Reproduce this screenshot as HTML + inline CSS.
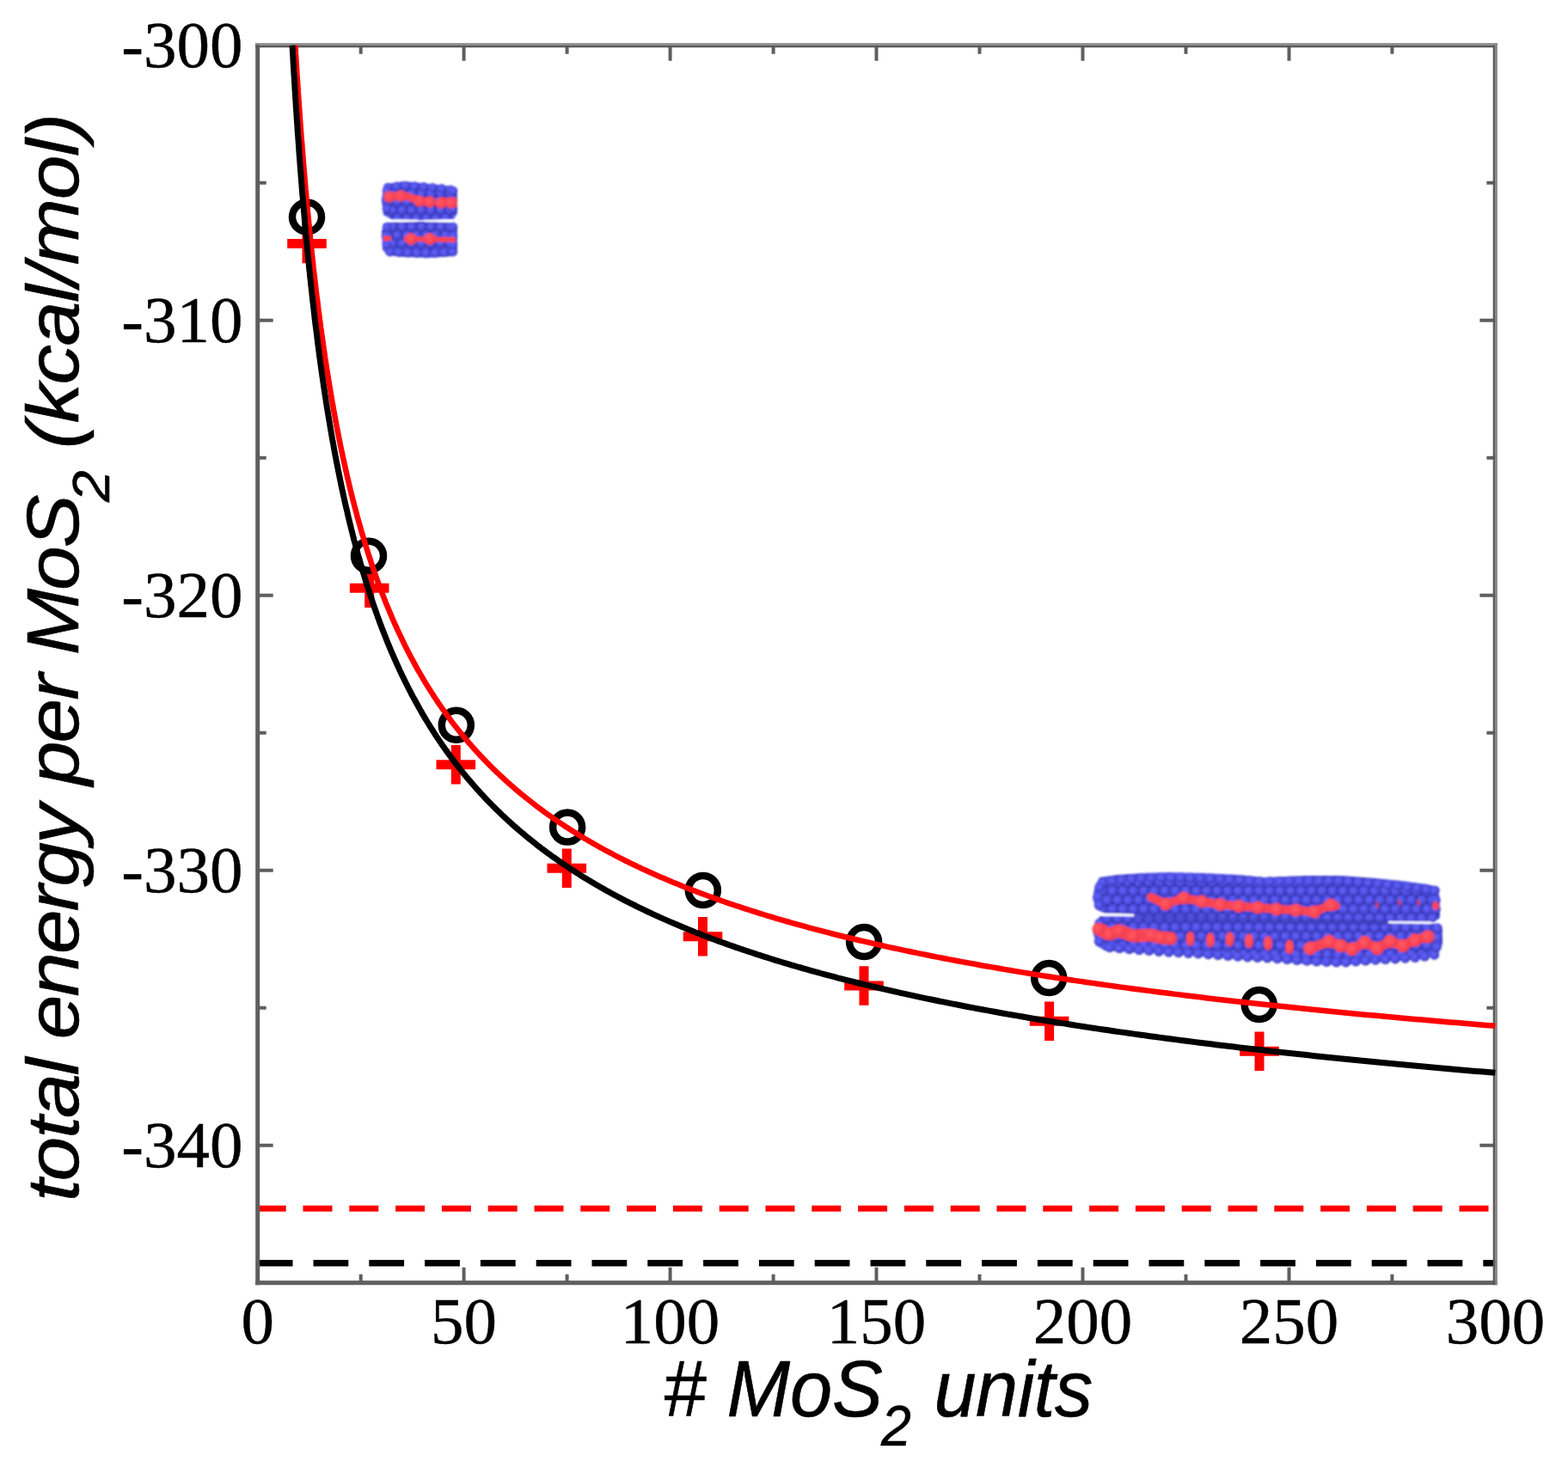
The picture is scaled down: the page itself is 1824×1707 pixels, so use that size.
<!DOCTYPE html>
<html><head><meta charset="utf-8"><title>Total energy per MoS2 vs number of MoS2 units</title>
<style>
html,body{margin:0;padding:0;background:#fff;}
svg{display:block;}
.tl{font-family:"Liberation Serif","Times New Roman",serif;font-size:77px;fill:#000;stroke:#000;stroke-width:0.4px;}
.tt{font-family:"Liberation Sans",Arial,sans-serif;font-style:italic;font-size:93px;fill:#000;stroke:#000;stroke-width:0.6px;}
.sub{font-size:66px;}
</style></head>
<body>
<svg width="1824" height="1707" viewBox="0 0 1824 1707">
<rect width="1824" height="1707" fill="#fff"/>
<g>
<line x1="299.7" y1="1406.2" x2="1739.4" y2="1406.2" stroke="#ff0000" stroke-width="7" stroke-dasharray="34 19.8" stroke-dashoffset="1"/>
<line x1="299.7" y1="1469.8" x2="1739.4" y2="1469.8" stroke="#000" stroke-width="7.5" stroke-dasharray="40.8 24"/>
<path d="M419.7,1492.7v-10 M419.7,52.7v10 M539.6,1492.7v-18 M539.6,52.7v18 M659.6,1492.7v-10 M659.6,52.7v10 M779.6,1492.7v-18 M779.6,52.7v18 M899.6,1492.7v-10 M899.6,52.7v10 M1019.5,1492.7v-18 M1019.5,52.7v18 M1139.5,1492.7v-10 M1139.5,52.7v10 M1259.5,1492.7v-18 M1259.5,52.7v18 M1379.5,1492.7v-10 M1379.5,52.7v10 M1499.5,1492.7v-18 M1499.5,52.7v18 M1619.4,1492.7v-10 M1619.4,52.7v10 M299.7,212.7h10 M1739.4,212.7h-10 M299.7,372.7h18 M1739.4,372.7h-18 M299.7,532.7h10 M1739.4,532.7h-10 M299.7,692.7h18 M1739.4,692.7h-18 M299.7,852.7h10 M1739.4,852.7h-10 M299.7,1012.7h18 M1739.4,1012.7h-18 M299.7,1172.7h10 M1739.4,1172.7h-10 M299.7,1332.7h18 M1739.4,1332.7h-18" stroke="#5e5e5e" stroke-width="4" fill="none"/>
<rect x="297.2" y="50.1" width="5" height="1445.1" fill="#5e5e5e"/>
<rect x="297.2" y="1490.1" width="1444.6" height="5.1" fill="#616161"/>
<rect x="297.2" y="50.1" width="1444.6" height="2.6" fill="#8e8e8e"/>
<rect x="297.2" y="52.6" width="1442" height="2.7" fill="#5a5a5a"/>
<rect x="1739.3" y="50.1" width="2.6" height="1445.1" fill="#8a8a8a"/>
<rect x="1736.7" y="52.6" width="2.7" height="1442.6" fill="#5a5a5a"/>
<path d="M334.2,283.4h45.6 M357.0,260.6v45.6" stroke="#ff0000" stroke-width="11" fill="none"/>
<path d="M406.9,684.2h45.6 M429.7,661.4v45.6" stroke="#ff0000" stroke-width="11" fill="none"/>
<path d="M507.5,889.8h45.6 M530.3,867.0v45.6" stroke="#ff0000" stroke-width="11" fill="none"/>
<path d="M636.5,1010.3h45.6 M659.3,987.5v45.6" stroke="#ff0000" stroke-width="11" fill="none"/>
<path d="M794.7,1089.8h45.6 M817.5,1067.0v45.6" stroke="#ff0000" stroke-width="11" fill="none"/>
<path d="M982.2,1147.0h45.6 M1005.0,1124.2v45.6" stroke="#ff0000" stroke-width="11" fill="none"/>
<path d="M1197.8,1188.2h45.6 M1220.6,1165.4v45.6" stroke="#ff0000" stroke-width="11" fill="none"/>
<path d="M1442.2,1223.2h45.6 M1465.0,1200.4v45.6" stroke="#ff0000" stroke-width="11" fill="none"/>
<circle cx="357" cy="252.5" r="17" stroke="#000" stroke-width="8.5" fill="none"/>
<circle cx="429" cy="646.7" r="17" stroke="#000" stroke-width="8.5" fill="none"/>
<circle cx="530.8" cy="843.8" r="17" stroke="#000" stroke-width="8.5" fill="none"/>
<circle cx="660.1" cy="962.6" r="17" stroke="#000" stroke-width="8.5" fill="none"/>
<circle cx="817.8" cy="1035.9" r="17" stroke="#000" stroke-width="8.5" fill="none"/>
<circle cx="1005.1" cy="1096" r="17" stroke="#000" stroke-width="8.5" fill="none"/>
<circle cx="1220.2" cy="1138" r="17" stroke="#000" stroke-width="8.5" fill="none"/>
<circle cx="1464.7" cy="1169" r="17" stroke="#000" stroke-width="8.5" fill="none"/>
<path d="M343.4,52.7 L343.7,57.0 L343.9,61.4 L344.2,65.7 L344.5,70.0 L344.7,74.3 L345.0,78.5 L345.3,82.8 L345.5,87.0 L345.8,91.2 L346.1,95.5 L346.4,99.7 L346.6,103.8 L346.9,108.0 L347.2,112.2 L347.5,116.3 L347.8,120.4 L348.1,124.6 L348.4,128.7 L348.7,132.7 L348.9,136.8 L349.2,140.9 L349.5,144.9 L349.8,149.0 L350.1,153.0 L350.4,157.0 L350.7,161.0 L351.1,165.0 L351.4,168.9 L351.7,172.9 L352.0,176.8 L352.3,180.7 L352.6,184.7 L352.9,188.6 L353.2,192.4 L353.6,196.3 L353.9,200.2 L354.2,204.0 L354.5,207.9 L354.9,211.7 L355.2,215.5 L355.5,219.3 L355.9,223.1 L356.2,226.9 L356.5,230.6 L356.9,234.4 L357.2,238.1 L357.6,241.8 L357.9,245.5 L358.3,249.2 L358.6,252.9 L359.0,256.6 L359.3,260.3 L359.7,263.9 L360.1,267.6 L360.4,271.2 L360.8,274.8 L361.1,278.4 L361.5,282.0 L361.9,285.6 L362.3,289.2 L362.6,292.7 L363.0,296.3 L363.4,299.8 L363.8,303.3 L364.2,306.8 L364.5,310.3 L364.9,313.8 L365.3,317.3 L365.7,320.7 L366.1,324.2 L366.5,327.6 L366.9,331.1 L367.3,334.5 L367.7,337.9 L368.1,341.3 L368.5,344.7 L369.0,348.0 L369.4,351.4 L369.8,354.8 L370.2,358.1 L370.6,361.4 L371.1,364.7 L371.5,368.1 L371.9,371.4 L372.3,374.6 L372.8,377.9 L373.2,381.2 L373.7,384.4 L374.1,387.7 L374.6,390.9 L375.0,394.1 L375.5,397.3 L375.9,400.5 L376.4,403.7 L376.8,406.9 L377.3,410.1 L377.8,413.3 L378.2,416.4 L378.7,419.5 L379.2,422.7 L379.6,425.8 L380.1,428.9 L380.6,432.0 L381.1,435.1 L381.6,438.2 L382.1,441.2 L382.6,444.3 L383.1,447.3 L383.6,450.4 L384.1,453.4 L384.6,456.4 L385.1,459.4 L385.6,462.4 L386.1,465.4 L386.6,468.4 L387.2,471.4 L387.7,474.3 L388.2,477.3 L388.7,480.2 L389.3,483.2 L389.8,486.1 L390.3,489.0 L390.9,491.9 L391.4,494.8 L392.0,497.7 L392.5,500.5 L393.1,503.4 L393.7,506.3 L394.2,509.1 L394.8,512.0 L395.4,514.8 L395.9,517.6 L396.5,520.4 L397.1,523.2 L397.7,526.0 L398.3,528.8 L398.9,531.6 L399.5,534.3 L400.1,537.1 L400.7,539.8 L401.3,542.6 L401.9,545.3 L402.5,548.0 L403.1,550.7 L403.7,553.4 L404.3,556.1 L405.0,558.8 L405.6,561.5 L406.2,564.2 L406.9,566.8 L407.5,569.5 L408.2,572.1 L408.8,574.8 L409.5,577.4 L410.1,580.0 L410.8,582.6 L411.5,585.2 L412.1,587.8 L412.8,590.4 L413.5,593.0 L414.2,595.5 L414.9,598.1 L415.5,600.6 L416.2,603.2 L416.9,605.7 L417.6,608.2 L418.4,610.8 L419.1,613.3 L419.8,615.8 L420.5,618.3 L421.2,620.8 L422.0,623.2 L422.7,625.7 L423.4,628.2 L424.2,630.6 L424.9,633.1 L425.7,635.5 L426.4,637.9 L427.2,640.4 L427.9,642.8 L428.7,645.2 L429.5,647.6 L430.3,650.0 L431.1,652.4 L431.8,654.7 L432.6,657.1 L433.4,659.5 L434.2,661.8 L435.0,664.2 L435.9,666.5 L436.7,668.8 L437.5,671.2 L438.3,673.5 L439.1,675.8 L440.0,678.1 L440.8,680.4 L441.7,682.7 L442.5,684.9 L443.4,687.2 L444.2,689.5 L445.1,691.7 L446.0,694.0 L446.9,696.2 L447.7,698.5 L448.6,700.7 L449.5,702.9 L450.4,705.1 L451.3,707.3 L452.2,709.5 L453.2,711.7 L454.1,713.9 L455.0,716.1 L455.9,718.3 L456.9,720.4 L457.8,722.6 L458.8,724.8 L459.7,726.9 L460.7,729.0 L461.6,731.2 L462.6,733.3 L463.6,735.4 L464.6,737.5 L465.6,739.6 L466.6,741.7 L467.6,743.8 L468.6,745.9 L469.6,748.0 L470.6,750.1 L471.6,752.1 L472.7,754.2 L473.7,756.2 L474.7,758.3 L475.8,760.3 L476.8,762.3 L477.9,764.4 L479.0,766.4 L480.1,768.4 L481.1,770.4 L482.2,772.4 L483.3,774.4 L484.4,776.4 L485.5,778.4 L486.6,780.3 L487.8,782.3 L488.9,784.3 L490.0,786.2 L491.2,788.2 L492.3,790.1 L493.5,792.1 L494.6,794.0 L495.8,795.9 L497.0,797.8 L498.2,799.8 L499.4,801.7 L500.6,803.6 L501.8,805.5 L503.0,807.3 L504.2,809.2 L505.4,811.1 L506.7,813.0 L507.9,814.8 L509.1,816.7 L510.4,818.6 L511.7,820.4 L512.9,822.2 L514.2,824.1 L515.5,825.9 L516.8,827.7 L518.1,829.6 L519.4,831.4 L520.7,833.2 L522.1,835.0 L523.4,836.8 L524.7,838.6 L526.1,840.4 L527.4,842.1 L528.8,843.9 L530.2,845.7 L531.6,847.4 L533.0,849.2 L534.4,850.9 L535.8,852.7 L537.2,854.4 L538.6,856.2 L540.0,857.9 L541.5,859.6 L542.9,861.3 L544.4,863.0 L545.9,864.8 L547.3,866.5 L548.8,868.2 L550.3,869.8 L551.8,871.5 L553.3,873.2 L554.9,874.9 L556.4,876.6 L557.9,878.2 L559.5,879.9 L561.0,881.5 L562.6,883.2 L564.2,884.8 L565.8,886.5 L567.4,888.1 L569.0,889.7 L570.6,891.4 L572.2,893.0 L573.8,894.6 L575.5,896.2 L577.1,897.8 L578.8,899.4 L580.5,901.0 L582.2,902.6 L583.9,904.2 L585.6,905.7 L587.3,907.3 L589.0,908.9 L590.7,910.4 L592.5,912.0 L594.3,913.6 L596.0,915.1 L597.8,916.6 L599.6,918.2 L601.4,919.7 L603.2,921.2 L605.0,922.8 L606.8,924.3 L608.7,925.8 L610.5,927.3 L612.4,928.8 L614.3,930.3 L616.2,931.8 L618.1,933.3 L620.0,934.8 L621.9,936.3 L623.8,937.8 L625.8,939.2 L627.7,940.7 L629.7,942.2 L631.7,943.6 L633.7,945.1 L635.7,946.5 L637.7,948.0 L639.7,949.4 L641.8,950.9 L643.8,952.3 L645.9,953.7 L648.0,955.1 L650.1,956.6 L652.2,958.0 L654.3,959.4 L656.4,960.8 L658.5,962.2 L660.7,963.6 L662.9,965.0 L665.0,966.4 L667.2,967.7 L669.4,969.1 L671.6,970.5 L673.9,971.9 L676.1,973.2 L678.4,974.6 L680.7,976.0 L682.9,977.3 L685.2,978.7 L687.6,980.0 L689.9,981.3 L692.2,982.7 L694.6,984.0 L696.9,985.3 L699.3,986.7 L701.7,988.0 L704.1,989.3 L706.6,990.6 L709.0,991.9 L711.5,993.2 L713.9,994.5 L716.4,995.8 L718.9,997.1 L721.4,998.4 L724.0,999.7 L726.5,1001.0 L729.1,1002.2 L731.6,1003.5 L734.2,1004.8 L736.8,1006.0 L739.5,1007.3 L742.1,1008.6 L744.8,1009.8 L747.4,1011.1 L750.1,1012.3 L752.8,1013.5 L755.5,1014.8 L758.3,1016.0 L761.0,1017.2 L763.8,1018.5 L766.6,1019.7 L769.4,1020.9 L772.2,1022.1 L775.0,1023.3 L777.9,1024.5 L780.8,1025.7 L783.6,1026.9 L786.5,1028.1 L789.5,1029.3 L792.4,1030.5 L795.4,1031.7 L798.3,1032.9 L801.3,1034.1 L804.3,1035.2 L807.4,1036.4 L810.4,1037.6 L813.5,1038.7 L816.6,1039.9 L819.7,1041.0 L822.8,1042.2 L825.9,1043.3 L829.1,1044.5 L832.3,1045.6 L835.4,1046.8 L838.7,1047.9 L841.9,1049.0 L845.1,1050.2 L848.4,1051.3 L851.7,1052.4 L855.0,1053.5 L858.4,1054.6 L861.7,1055.7 L865.1,1056.8 L868.5,1057.9 L871.9,1059.0 L875.3,1060.1 L878.8,1061.2 L882.2,1062.3 L885.7,1063.4 L889.3,1064.5 L892.8,1065.6 L896.4,1066.6 L899.9,1067.7 L903.5,1068.8 L907.2,1069.8 L910.8,1070.9 L914.5,1072.0 L918.2,1073.0 L921.9,1074.1 L925.6,1075.1 L929.4,1076.2 L933.1,1077.2 L936.9,1078.2 L940.8,1079.3 L944.6,1080.3 L948.5,1081.3 L952.4,1082.4 L956.3,1083.4 L960.2,1084.4 L964.2,1085.4 L968.2,1086.5 L972.2,1087.5 L976.2,1088.5 L980.3,1089.5 L984.4,1090.5 L988.5,1091.5 L992.6,1092.5 L996.8,1093.5 L1000.9,1094.5 L1005.1,1095.4 L1009.4,1096.4 L1013.6,1097.4 L1017.9,1098.4 L1022.2,1099.4 L1026.6,1100.3 L1030.9,1101.3 L1035.3,1102.3 L1039.7,1103.2 L1044.2,1104.2 L1048.6,1105.1 L1053.1,1106.1 L1057.7,1107.0 L1062.2,1108.0 L1066.8,1108.9 L1071.4,1109.9 L1076.0,1110.8 L1080.7,1111.7 L1085.4,1112.7 L1090.1,1113.6 L1094.8,1114.5 L1099.6,1115.5 L1104.4,1116.4 L1109.2,1117.3 L1114.1,1118.2 L1118.9,1119.1 L1123.9,1120.0 L1128.8,1120.9 L1133.8,1121.8 L1138.8,1122.8 L1143.8,1123.7 L1148.9,1124.5 L1154.0,1125.4 L1159.1,1126.3 L1164.3,1127.2 L1169.5,1128.1 L1174.7,1129.0 L1179.9,1129.9 L1185.2,1130.7 L1190.5,1131.6 L1195.9,1132.5 L1201.2,1133.4 L1206.6,1134.2 L1212.1,1135.1 L1217.6,1136.0 L1223.1,1136.8 L1228.6,1137.7 L1234.2,1138.5 L1239.8,1139.4 L1245.4,1140.2 L1251.1,1141.1 L1256.8,1141.9 L1262.6,1142.7 L1268.3,1143.6 L1274.1,1144.4 L1280.0,1145.2 L1285.9,1146.1 L1291.8,1146.9 L1297.7,1147.7 L1303.7,1148.6 L1309.8,1149.4 L1315.8,1150.2 L1321.9,1151.0 L1328.0,1151.8 L1334.2,1152.6 L1340.4,1153.4 L1346.7,1154.2 L1352.9,1155.0 L1359.3,1155.8 L1365.6,1156.6 L1372.0,1157.4 L1378.5,1158.2 L1384.9,1159.0 L1391.4,1159.8 L1398.0,1160.6 L1404.6,1161.4 L1411.2,1162.2 L1417.9,1162.9 L1424.6,1163.7 L1431.3,1164.5 L1438.1,1165.3 L1445.0,1166.0 L1451.8,1166.8 L1458.7,1167.5 L1465.7,1168.3 L1472.7,1169.1 L1479.7,1169.8 L1486.8,1170.6 L1493.9,1171.3 L1501.1,1172.1 L1508.3,1172.8 L1515.6,1173.6 L1522.9,1174.3 L1530.2,1175.1 L1537.6,1175.8 L1545.0,1176.5 L1552.5,1177.3 L1560.0,1178.0 L1567.6,1178.7 L1575.2,1179.5 L1582.8,1180.2 L1590.5,1180.9 L1598.3,1181.6 L1606.0,1182.3 L1613.9,1183.1 L1621.8,1183.8 L1629.7,1184.5 L1637.7,1185.2 L1645.7,1185.9 L1653.8,1186.6 L1661.9,1187.3 L1670.1,1188.0 L1678.3,1188.7 L1686.6,1189.4 L1694.9,1190.1 L1703.3,1190.8 L1711.7,1191.5 L1720.2,1192.2 L1728.7,1192.9 L1737.3,1193.5 L1739.4,1193.7" stroke="#ff0000" stroke-width="6.5" fill="none" stroke-linejoin="round"/>
<path d="M340.0,52.7 L340.3,57.0 L340.5,61.3 L340.8,65.5 L341.0,69.8 L341.2,74.0 L341.5,78.3 L341.7,82.5 L342.0,86.7 L342.3,90.9 L342.5,95.1 L342.8,99.2 L343.0,103.4 L343.3,107.5 L343.5,111.7 L343.8,115.8 L344.1,119.9 L344.3,124.0 L344.6,128.1 L344.9,132.1 L345.1,136.2 L345.4,140.2 L345.7,144.3 L346.0,148.3 L346.2,152.3 L346.5,156.3 L346.8,160.3 L347.1,164.3 L347.4,168.2 L347.7,172.2 L347.9,176.1 L348.2,180.0 L348.5,183.9 L348.8,187.8 L349.1,191.7 L349.4,195.6 L349.7,199.5 L350.0,203.3 L350.3,207.2 L350.6,211.0 L350.9,214.8 L351.2,218.6 L351.5,222.4 L351.8,226.2 L352.2,230.0 L352.5,233.8 L352.8,237.5 L353.1,241.3 L353.4,245.0 L353.8,248.7 L354.1,252.4 L354.4,256.1 L354.7,259.8 L355.1,263.5 L355.4,267.1 L355.7,270.8 L356.1,274.4 L356.4,278.1 L356.7,281.7 L357.1,285.3 L357.4,288.9 L357.8,292.5 L358.1,296.0 L358.5,299.6 L358.8,303.2 L359.2,306.7 L359.5,310.2 L359.9,313.8 L360.3,317.3 L360.6,320.8 L361.0,324.3 L361.4,327.8 L361.7,331.2 L362.1,334.7 L362.5,338.1 L362.9,341.6 L363.2,345.0 L363.6,348.4 L364.0,351.8 L364.4,355.2 L364.8,358.6 L365.2,362.0 L365.6,365.4 L365.9,368.7 L366.3,372.1 L366.7,375.4 L367.1,378.7 L367.6,382.1 L368.0,385.4 L368.4,388.7 L368.8,391.9 L369.2,395.2 L369.6,398.5 L370.0,401.8 L370.5,405.0 L370.9,408.2 L371.3,411.5 L371.7,414.7 L372.2,417.9 L372.6,421.1 L373.0,424.3 L373.5,427.5 L373.9,430.6 L374.4,433.8 L374.8,437.0 L375.3,440.1 L375.7,443.2 L376.2,446.4 L376.6,449.5 L377.1,452.6 L377.6,455.7 L378.0,458.8 L378.5,461.9 L379.0,464.9 L379.4,468.0 L379.9,471.0 L380.4,474.1 L380.9,477.1 L381.4,480.1 L381.9,483.1 L382.4,486.2 L382.9,489.1 L383.4,492.1 L383.9,495.1 L384.4,498.1 L384.9,501.0 L385.4,504.0 L385.9,506.9 L386.4,509.9 L386.9,512.8 L387.5,515.7 L388.0,518.6 L388.5,521.5 L389.0,524.4 L389.6,527.3 L390.1,530.2 L390.7,533.0 L391.2,535.9 L391.8,538.7 L392.3,541.6 L392.9,544.4 L393.4,547.2 L394.0,550.0 L394.6,552.8 L395.1,555.6 L395.7,558.4 L396.3,561.2 L396.8,564.0 L397.4,566.7 L398.0,569.5 L398.6,572.2 L399.2,575.0 L399.8,577.7 L400.4,580.4 L401.0,583.2 L401.6,585.9 L402.2,588.6 L402.8,591.2 L403.5,593.9 L404.1,596.6 L404.7,599.3 L405.3,601.9 L406.0,604.6 L406.6,607.2 L407.2,609.9 L407.9,612.5 L408.5,615.1 L409.2,617.7 L409.9,620.3 L410.5,622.9 L411.2,625.5 L411.8,628.1 L412.5,630.6 L413.2,633.2 L413.9,635.8 L414.6,638.3 L415.3,640.9 L415.9,643.4 L416.6,645.9 L417.3,648.4 L418.1,650.9 L418.8,653.4 L419.5,655.9 L420.2,658.4 L420.9,660.9 L421.6,663.4 L422.4,665.8 L423.1,668.3 L423.9,670.8 L424.6,673.2 L425.3,675.6 L426.1,678.1 L426.9,680.5 L427.6,682.9 L428.4,685.3 L429.2,687.7 L429.9,690.1 L430.7,692.5 L431.5,694.9 L432.3,697.2 L433.1,699.6 L433.9,702.0 L434.7,704.3 L435.5,706.7 L436.3,709.0 L437.1,711.3 L438.0,713.6 L438.8,716.0 L439.6,718.3 L440.5,720.6 L441.3,722.9 L442.2,725.2 L443.0,727.4 L443.9,729.7 L444.7,732.0 L445.6,734.2 L446.5,736.5 L447.4,738.7 L448.3,741.0 L449.1,743.2 L450.0,745.4 L450.9,747.7 L451.9,749.9 L452.8,752.1 L453.7,754.3 L454.6,756.5 L455.5,758.7 L456.5,760.8 L457.4,763.0 L458.4,765.2 L459.3,767.3 L460.3,769.5 L461.2,771.6 L462.2,773.8 L463.2,775.9 L464.2,778.1 L465.1,780.2 L466.1,782.3 L467.1,784.4 L468.1,786.5 L469.2,788.6 L470.2,790.7 L471.2,792.8 L472.2,794.9 L473.3,796.9 L474.3,799.0 L475.3,801.1 L476.4,803.1 L477.5,805.2 L478.5,807.2 L479.6,809.2 L480.7,811.3 L481.8,813.3 L482.9,815.3 L484.0,817.3 L485.1,819.3 L486.2,821.3 L487.3,823.3 L488.4,825.3 L489.6,827.3 L490.7,829.3 L491.8,831.2 L493.0,833.2 L494.1,835.2 L495.3,837.1 L496.5,839.0 L497.7,841.0 L498.9,842.9 L500.1,844.9 L501.3,846.8 L502.5,848.7 L503.7,850.6 L504.9,852.5 L506.1,854.4 L507.4,856.3 L508.6,858.2 L509.9,860.1 L511.1,862.0 L512.4,863.8 L513.7,865.7 L515.0,867.6 L516.3,869.4 L517.6,871.3 L518.9,873.1 L520.2,874.9 L521.5,876.8 L522.8,878.6 L524.2,880.4 L525.5,882.2 L526.9,884.0 L528.2,885.9 L529.6,887.7 L531.0,889.4 L532.4,891.2 L533.8,893.0 L535.2,894.8 L536.6,896.6 L538.0,898.3 L539.4,900.1 L540.9,901.9 L542.3,903.6 L543.8,905.4 L545.2,907.1 L546.7,908.8 L548.2,910.6 L549.7,912.3 L551.2,914.0 L552.7,915.7 L554.2,917.4 L555.7,919.2 L557.3,920.9 L558.8,922.6 L560.4,924.2 L561.9,925.9 L563.5,927.6 L565.1,929.3 L566.7,931.0 L568.3,932.6 L569.9,934.3 L571.5,935.9 L573.2,937.6 L574.8,939.2 L576.4,940.9 L578.1,942.5 L579.8,944.1 L581.5,945.8 L583.1,947.4 L584.9,949.0 L586.6,950.6 L588.3,952.2 L590.0,953.8 L591.8,955.4 L593.5,957.0 L595.3,958.6 L597.0,960.2 L598.8,961.8 L600.6,963.3 L602.4,964.9 L604.2,966.5 L606.1,968.0 L607.9,969.6 L609.8,971.1 L611.6,972.7 L613.5,974.2 L615.4,975.7 L617.3,977.3 L619.2,978.8 L621.1,980.3 L623.0,981.8 L625.0,983.4 L626.9,984.9 L628.9,986.4 L630.8,987.9 L632.8,989.4 L634.8,990.9 L636.8,992.3 L638.9,993.8 L640.9,995.3 L643.0,996.8 L645.0,998.2 L647.1,999.7 L649.2,1001.2 L651.3,1002.6 L653.4,1004.1 L655.5,1005.5 L657.6,1007.0 L659.8,1008.4 L661.9,1009.8 L664.1,1011.3 L666.3,1012.7 L668.5,1014.1 L670.7,1015.5 L672.9,1016.9 L675.2,1018.3 L677.4,1019.8 L679.7,1021.2 L682.0,1022.5 L684.3,1023.9 L686.6,1025.3 L688.9,1026.7 L691.2,1028.1 L693.6,1029.5 L695.9,1030.8 L698.3,1032.2 L700.7,1033.6 L703.1,1034.9 L705.5,1036.3 L708.0,1037.6 L710.4,1039.0 L712.9,1040.3 L715.4,1041.7 L717.9,1043.0 L720.4,1044.3 L722.9,1045.6 L725.4,1047.0 L728.0,1048.3 L730.6,1049.6 L733.1,1050.9 L735.7,1052.2 L738.4,1053.5 L741.0,1054.8 L743.6,1056.1 L746.3,1057.4 L749.0,1058.7 L751.7,1060.0 L754.4,1061.3 L757.1,1062.5 L759.9,1063.8 L762.6,1065.1 L765.4,1066.3 L768.2,1067.6 L771.0,1068.9 L773.8,1070.1 L776.7,1071.4 L779.5,1072.6 L782.4,1073.8 L785.3,1075.1 L788.2,1076.3 L791.2,1077.5 L794.1,1078.8 L797.1,1080.0 L800.1,1081.2 L803.1,1082.4 L806.1,1083.6 L809.1,1084.9 L812.2,1086.1 L815.3,1087.3 L818.3,1088.5 L821.5,1089.7 L824.6,1090.8 L827.7,1092.0 L830.9,1093.2 L834.1,1094.4 L837.3,1095.6 L840.5,1096.7 L843.8,1097.9 L847.0,1099.1 L850.3,1100.2 L853.6,1101.4 L856.9,1102.6 L860.3,1103.7 L863.7,1104.9 L867.0,1106.0 L870.4,1107.1 L873.9,1108.3 L877.3,1109.4 L880.8,1110.6 L884.3,1111.7 L887.8,1112.8 L891.3,1113.9 L894.8,1115.0 L898.4,1116.2 L902.0,1117.3 L905.6,1118.4 L909.3,1119.5 L912.9,1120.6 L916.6,1121.7 L920.3,1122.8 L924.0,1123.9 L927.8,1125.0 L931.5,1126.0 L935.3,1127.1 L939.1,1128.2 L943.0,1129.3 L946.8,1130.4 L950.7,1131.4 L954.6,1132.5 L958.6,1133.6 L962.5,1134.6 L966.5,1135.7 L970.5,1136.7 L974.5,1137.8 L978.6,1138.8 L982.6,1139.9 L986.7,1140.9 L990.9,1141.9 L995.0,1143.0 L999.2,1144.0 L1003.4,1145.0 L1007.6,1146.1 L1011.8,1147.1 L1016.1,1148.1 L1020.4,1149.1 L1024.7,1150.1 L1029.1,1151.1 L1033.5,1152.1 L1037.9,1153.2 L1042.3,1154.2 L1046.7,1155.2 L1051.2,1156.1 L1055.7,1157.1 L1060.3,1158.1 L1064.8,1159.1 L1069.4,1160.1 L1074.0,1161.1 L1078.7,1162.1 L1083.4,1163.0 L1088.1,1164.0 L1092.8,1165.0 L1097.6,1165.9 L1102.3,1166.9 L1107.2,1167.9 L1112.0,1168.8 L1116.9,1169.8 L1121.8,1170.7 L1126.7,1171.7 L1131.7,1172.6 L1136.7,1173.6 L1141.7,1174.5 L1146.7,1175.4 L1151.8,1176.4 L1156.9,1177.3 L1162.1,1178.2 L1167.3,1179.2 L1172.5,1180.1 L1177.7,1181.0 L1183.0,1181.9 L1188.3,1182.8 L1193.6,1183.7 L1199.0,1184.7 L1204.4,1185.6 L1209.8,1186.5 L1215.2,1187.4 L1220.7,1188.3 L1226.3,1189.2 L1231.8,1190.1 L1237.4,1190.9 L1243.0,1191.8 L1248.7,1192.7 L1254.4,1193.6 L1260.1,1194.5 L1265.9,1195.4 L1271.7,1196.2 L1277.5,1197.1 L1283.4,1198.0 L1289.3,1198.8 L1295.2,1199.7 L1301.2,1200.6 L1307.2,1201.4 L1313.3,1202.3 L1319.3,1203.1 L1325.4,1204.0 L1331.6,1204.8 L1337.8,1205.7 L1344.0,1206.5 L1350.3,1207.4 L1356.6,1208.2 L1362.9,1209.0 L1369.3,1209.9 L1375.7,1210.7 L1382.2,1211.5 L1388.7,1212.4 L1395.2,1213.2 L1401.8,1214.0 L1408.4,1214.8 L1415.1,1215.7 L1421.7,1216.5 L1428.5,1217.3 L1435.3,1218.1 L1442.1,1218.9 L1448.9,1219.7 L1455.8,1220.5 L1462.8,1221.3 L1469.7,1222.1 L1476.8,1222.9 L1483.8,1223.7 L1490.9,1224.5 L1498.1,1225.3 L1505.3,1226.0 L1512.5,1226.8 L1519.8,1227.6 L1527.1,1228.4 L1534.4,1229.2 L1541.9,1229.9 L1549.3,1230.7 L1556.8,1231.5 L1564.4,1232.2 L1571.9,1233.0 L1579.6,1233.8 L1587.3,1234.5 L1595.0,1235.3 L1602.7,1236.0 L1610.6,1236.8 L1618.4,1237.6 L1626.3,1238.3 L1634.3,1239.0 L1642.3,1239.8 L1650.4,1240.5 L1658.5,1241.3 L1666.6,1242.0 L1674.8,1242.7 L1683.1,1243.5 L1691.4,1244.2 L1699.7,1244.9 L1708.1,1245.7 L1716.6,1246.4 L1725.1,1247.1 L1733.6,1247.8 L1739.4,1248.3" stroke="#000" stroke-width="7" fill="none" stroke-linejoin="round"/>
<defs>
<radialGradient id="ag" cx="0.42" cy="0.42" r="0.62">
<stop offset="0" stop-color="#6464fa"/><stop offset="0.55" stop-color="#5050e6"/><stop offset="1" stop-color="#3838b4"/>
</radialGradient>
<radialGradient id="rg" cx="0.42" cy="0.42" r="0.62">
<stop offset="0" stop-color="#ff5c66"/><stop offset="0.7" stop-color="#fa4452"/><stop offset="1" stop-color="#e0384e"/>
</radialGradient>
<pattern id="atoms" x="1" y="3" width="12.2" height="21.1" patternUnits="userSpaceOnUse">
<rect width="12.2" height="21.1" fill="#3636b0"/>
<circle cx="0.00" cy="0.00" r="6.0" fill="url(#ag)"/>
<circle cx="12.20" cy="0.00" r="6.0" fill="url(#ag)"/>
<circle cx="0.00" cy="21.10" r="6.0" fill="url(#ag)"/>
<circle cx="12.20" cy="21.10" r="6.0" fill="url(#ag)"/>
<circle cx="6.10" cy="10.55" r="6.0" fill="url(#ag)"/>
</pattern>
<pattern id="atoms2" x="3" y="2" width="11.2" height="19.4" patternUnits="userSpaceOnUse">
<rect width="11.2" height="19.4" fill="#3636b0"/>
<circle cx="0.00" cy="0.00" r="5.5" fill="url(#ag)"/>
<circle cx="11.20" cy="0.00" r="5.5" fill="url(#ag)"/>
<circle cx="0.00" cy="19.40" r="5.5" fill="url(#ag)"/>
<circle cx="11.20" cy="19.40" r="5.5" fill="url(#ag)"/>
<circle cx="5.60" cy="9.70" r="5.5" fill="url(#ag)"/>
</pattern>
<filter id="soft" x="-5%" y="-5%" width="110%" height="110%"><feGaussianBlur stdDeviation="0.9"/></filter>
</defs>
<g filter="url(#soft)">
<path d="M1279,1021 L1300,1018 L1330,1016 L1360,1015 L1400,1016 L1440,1018 L1470,1021 L1520,1019 L1560,1019 L1600,1022 L1630,1025 L1660,1029 L1672,1032 L1675,1046 L1675,1068 L1668,1073 L1615,1073 L1560,1076 L1500,1075 L1440,1073 L1380,1071 L1320,1066 L1285,1063 L1275,1058 L1271,1045 L1274,1030 Z" fill="url(#atoms)"/>
<path d="M1280,1066 L1320,1066 L1380,1068 L1440,1070 L1500,1071 L1560,1072 L1620,1073 L1670,1075 L1678,1082 L1678,1098 L1672,1112 L1650,1116 L1600,1120 L1560,1123 L1520,1122 L1480,1118 L1440,1116 L1400,1113 L1360,1110 L1320,1108 L1285,1106 L1275,1100 L1272,1085 L1274,1072 Z" fill="url(#atoms)"/>
<circle cx="1282.5" cy="1027.0" r="5.8" fill="url(#ag)"/>
<circle cx="1293.8" cy="1025.1" r="5.8" fill="url(#ag)"/>
<circle cx="1304.9" cy="1023.7" r="5.8" fill="url(#ag)"/>
<circle cx="1316.4" cy="1022.9" r="5.8" fill="url(#ag)"/>
<circle cx="1327.9" cy="1022.1" r="5.8" fill="url(#ag)"/>
<circle cx="1339.3" cy="1021.7" r="5.8" fill="url(#ag)"/>
<circle cx="1350.8" cy="1021.3" r="5.8" fill="url(#ag)"/>
<circle cx="1362.1" cy="1021.1" r="5.8" fill="url(#ag)"/>
<circle cx="1373.6" cy="1021.3" r="5.8" fill="url(#ag)"/>
<circle cx="1385.1" cy="1021.6" r="5.8" fill="url(#ag)"/>
<circle cx="1396.6" cy="1021.9" r="5.8" fill="url(#ag)"/>
<circle cx="1408.0" cy="1022.4" r="5.8" fill="url(#ag)"/>
<circle cx="1419.5" cy="1023.0" r="5.8" fill="url(#ag)"/>
<circle cx="1431.0" cy="1023.6" r="5.8" fill="url(#ag)"/>
<circle cx="1442.4" cy="1024.2" r="5.8" fill="url(#ag)"/>
<circle cx="1453.9" cy="1024.9" r="5.8" fill="url(#ag)"/>
<circle cx="1465.3" cy="1025.7" r="5.8" fill="url(#ag)"/>
<circle cx="1477.1" cy="1025.9" r="5.8" fill="url(#ag)"/>
<circle cx="1488.6" cy="1025.6" r="5.8" fill="url(#ag)"/>
<circle cx="1500.1" cy="1025.4" r="5.8" fill="url(#ag)"/>
<circle cx="1511.6" cy="1025.2" r="5.8" fill="url(#ag)"/>
<circle cx="1523.0" cy="1025.0" r="5.8" fill="url(#ag)"/>
<circle cx="1534.5" cy="1025.0" r="5.8" fill="url(#ag)"/>
<circle cx="1546.0" cy="1025.0" r="5.8" fill="url(#ag)"/>
<circle cx="1557.5" cy="1025.0" r="5.8" fill="url(#ag)"/>
<circle cx="1568.8" cy="1025.7" r="5.8" fill="url(#ag)"/>
<circle cx="1580.2" cy="1026.5" r="5.8" fill="url(#ag)"/>
<circle cx="1591.7" cy="1027.4" r="5.8" fill="url(#ag)"/>
<circle cx="1603.1" cy="1028.3" r="5.8" fill="url(#ag)"/>
<circle cx="1614.5" cy="1029.5" r="5.8" fill="url(#ag)"/>
<circle cx="1626.0" cy="1030.6" r="5.8" fill="url(#ag)"/>
<circle cx="1637.3" cy="1032.0" r="5.8" fill="url(#ag)"/>
<circle cx="1648.7" cy="1033.5" r="5.8" fill="url(#ag)"/>
<circle cx="1659.5" cy="1035.0" r="5.8" fill="url(#ag)"/>
<circle cx="1668.5" cy="1111.0" r="5.8" fill="url(#ag)"/>
<circle cx="1657.2" cy="1112.8" r="5.8" fill="url(#ag)"/>
<circle cx="1646.1" cy="1114.2" r="5.8" fill="url(#ag)"/>
<circle cx="1634.6" cy="1114.9" r="5.8" fill="url(#ag)"/>
<circle cx="1623.1" cy="1115.6" r="5.8" fill="url(#ag)"/>
<circle cx="1611.6" cy="1116.3" r="5.8" fill="url(#ag)"/>
<circle cx="1600.1" cy="1117.0" r="5.8" fill="url(#ag)"/>
<circle cx="1588.6" cy="1117.8" r="5.8" fill="url(#ag)"/>
<circle cx="1577.2" cy="1118.7" r="5.8" fill="url(#ag)"/>
<circle cx="1565.7" cy="1119.6" r="5.8" fill="url(#ag)"/>
<circle cx="1554.6" cy="1119.7" r="5.8" fill="url(#ag)"/>
<circle cx="1543.1" cy="1119.2" r="5.8" fill="url(#ag)"/>
<circle cx="1531.6" cy="1118.6" r="5.8" fill="url(#ag)"/>
<circle cx="1520.2" cy="1118.0" r="5.8" fill="url(#ag)"/>
<circle cx="1508.7" cy="1117.1" r="5.8" fill="url(#ag)"/>
<circle cx="1497.3" cy="1116.3" r="5.8" fill="url(#ag)"/>
<circle cx="1485.8" cy="1115.4" r="5.8" fill="url(#ag)"/>
<circle cx="1474.3" cy="1114.7" r="5.8" fill="url(#ag)"/>
<circle cx="1462.8" cy="1114.1" r="5.8" fill="url(#ag)"/>
<circle cx="1451.3" cy="1113.6" r="5.8" fill="url(#ag)"/>
<circle cx="1439.9" cy="1113.0" r="5.8" fill="url(#ag)"/>
<circle cx="1428.4" cy="1112.1" r="5.8" fill="url(#ag)"/>
<circle cx="1416.9" cy="1111.3" r="5.8" fill="url(#ag)"/>
<circle cx="1405.5" cy="1110.4" r="5.8" fill="url(#ag)"/>
<circle cx="1393.9" cy="1109.7" r="5.8" fill="url(#ag)"/>
<circle cx="1382.4" cy="1109.1" r="5.8" fill="url(#ag)"/>
<circle cx="1370.9" cy="1108.5" r="5.8" fill="url(#ag)"/>
<circle cx="1359.5" cy="1108.0" r="5.8" fill="url(#ag)"/>
<circle cx="1348.1" cy="1107.1" r="5.8" fill="url(#ag)"/>
<circle cx="1336.6" cy="1106.2" r="5.8" fill="url(#ag)"/>
<circle cx="1325.1" cy="1105.4" r="5.8" fill="url(#ag)"/>
<circle cx="1313.7" cy="1104.4" r="5.8" fill="url(#ag)"/>
<circle cx="1302.2" cy="1103.5" r="5.8" fill="url(#ag)"/>
<circle cx="1290.8" cy="1102.5" r="5.8" fill="url(#ag)"/>
<circle cx="1279.0" cy="1032.5" r="5.8" fill="url(#ag)"/>
<circle cx="1277.3" cy="1043.3" r="5.8" fill="url(#ag)"/>
<circle cx="1278.4" cy="1053.2" r="5.8" fill="url(#ag)"/>
<circle cx="1279.0" cy="1074.5" r="5.8" fill="url(#ag)"/>
<circle cx="1277.2" cy="1085.3" r="5.8" fill="url(#ag)"/>
<circle cx="1278.5" cy="1095.3" r="5.8" fill="url(#ag)"/>
<circle cx="1669.0" cy="1036.2" r="5.8" fill="url(#ag)"/>
<circle cx="1669.9" cy="1047.2" r="5.8" fill="url(#ag)"/>
<circle cx="1670.0" cy="1058.0" r="5.8" fill="url(#ag)"/>
<circle cx="1672.0" cy="1080.0" r="5.8" fill="url(#ag)"/>
<circle cx="1672.0" cy="1091.0" r="5.8" fill="url(#ag)"/>
<circle cx="1671.2" cy="1101.7" r="5.8" fill="url(#ag)"/>
<path d="M1320,1066 L1400,1069.5 L1500,1072 L1615,1073.5" stroke="#3c3cb4" stroke-width="7" fill="none" opacity="0.45"/>
<path d="M1283,1064 L1318,1065" stroke="#fff" stroke-width="3" stroke-linecap="round"/>
<path d="M1616,1073.3 L1664,1073.6" stroke="#fff" stroke-width="2.6" stroke-linecap="round"/>
<path d="M1339,1044 L1356,1052 L1377,1045 L1398,1049 L1419.5,1052.5 L1441,1054.5 L1463.5,1056 L1485,1058 L1507.5,1059 L1529,1061 L1548,1053 L1554,1054" stroke="#f84452" stroke-width="10" fill="none" stroke-linejoin="round" stroke-linecap="round"/>
<circle cx="1356" cy="1052" r="7.6" fill="url(#rg)"/>
<circle cx="1377" cy="1045" r="7.6" fill="url(#rg)"/>
<circle cx="1398" cy="1049" r="7.6" fill="url(#rg)"/>
<circle cx="1419.5" cy="1052.5" r="7.6" fill="url(#rg)"/>
<circle cx="1441" cy="1054.5" r="7.6" fill="url(#rg)"/>
<circle cx="1463.5" cy="1056" r="7.6" fill="url(#rg)"/>
<circle cx="1485" cy="1058" r="7.6" fill="url(#rg)"/>
<circle cx="1507.5" cy="1059" r="7.6" fill="url(#rg)"/>
<circle cx="1529" cy="1061" r="7.6" fill="url(#rg)"/>
<circle cx="1548" cy="1053" r="7.6" fill="url(#rg)"/>
<ellipse cx="1602" cy="1053" rx="2" ry="4" fill="#d84060" opacity="0.8"/>
<ellipse cx="1628" cy="1050" rx="2" ry="4" fill="#d84060" opacity="0.8"/>
<ellipse cx="1650" cy="1050" rx="2" ry="4" fill="#d84060" opacity="0.8"/>
<ellipse cx="1670" cy="1054" rx="4" ry="5" fill="#f84452"/>
<path d="M1278,1081 L1290,1087 L1302,1083 L1318,1089 L1339,1088 L1350,1091 L1362,1092" stroke="#f84452" stroke-width="15" fill="none" stroke-linejoin="round" stroke-linecap="round"/>
<circle cx="1278" cy="1081" r="7" fill="url(#rg)"/>
<circle cx="1290" cy="1087" r="7" fill="url(#rg)"/>
<circle cx="1302" cy="1083" r="7" fill="url(#rg)"/>
<circle cx="1318" cy="1089" r="7" fill="url(#rg)"/>
<circle cx="1339" cy="1088" r="7" fill="url(#rg)"/>
<circle cx="1350" cy="1091" r="7" fill="url(#rg)"/>
<circle cx="1362" cy="1092" r="7" fill="url(#rg)"/>
<ellipse cx="1384.5" cy="1092.5" rx="5" ry="8.5" fill="url(#rg)"/>
<ellipse cx="1408" cy="1094" rx="5" ry="8.5" fill="url(#rg)"/>
<ellipse cx="1430.5" cy="1093" rx="5" ry="8.5" fill="url(#rg)"/>
<ellipse cx="1453" cy="1095" rx="5" ry="8.5" fill="url(#rg)"/>
<ellipse cx="1475" cy="1097.5" rx="5" ry="8.5" fill="url(#rg)"/>
<ellipse cx="1500" cy="1102" rx="5" ry="8.5" fill="url(#rg)"/>
<path d="M1524,1103.5 L1546,1095.5 L1559.5,1100.5 L1573,1104.5 L1587.5,1096.5 L1602,1103.5 L1617,1095.5 L1632,1100.5 L1646,1094 L1661,1090" stroke="#f84452" stroke-width="11" fill="none" stroke-linejoin="round" stroke-linecap="round"/>
<circle cx="1524" cy="1103.5" r="7.8" fill="url(#rg)"/>
<circle cx="1546" cy="1095.5" r="7.8" fill="url(#rg)"/>
<circle cx="1559.5" cy="1100.5" r="7.8" fill="url(#rg)"/>
<circle cx="1573" cy="1104.5" r="7.8" fill="url(#rg)"/>
<circle cx="1587.5" cy="1096.5" r="7.8" fill="url(#rg)"/>
<circle cx="1602" cy="1103.5" r="7.8" fill="url(#rg)"/>
<circle cx="1617" cy="1095.5" r="7.8" fill="url(#rg)"/>
<circle cx="1632" cy="1100.5" r="7.8" fill="url(#rg)"/>
<circle cx="1646" cy="1094" r="7.8" fill="url(#rg)"/>
<circle cx="1661" cy="1090" r="7.8" fill="url(#rg)"/>
<path d="M450,214 L470,211 L490,213 L510,215 L528,217 L532,225 L532,248 L528,255 L490,256 L455,255 L446,250 L444,232 L446,218 Z" fill="url(#atoms2)"/>
<path d="M450,259 L490,258 L528,259 L532,265 L532,293 L528,298 L500,300 L470,299 L450,297 L445,290 L444,268 Z" fill="url(#atoms2)"/>
<circle cx="451.1" cy="218.0" r="5.3" fill="url(#ag)"/>
<circle cx="461.5" cy="216.9" r="5.3" fill="url(#ag)"/>
<circle cx="471.8" cy="216.1" r="5.3" fill="url(#ag)"/>
<circle cx="482.3" cy="216.6" r="5.3" fill="url(#ag)"/>
<circle cx="492.8" cy="217.3" r="5.3" fill="url(#ag)"/>
<circle cx="503.2" cy="218.3" r="5.3" fill="url(#ag)"/>
<circle cx="513.6" cy="219.4" r="5.3" fill="url(#ag)"/>
<circle cx="524.1" cy="220.7" r="5.3" fill="url(#ag)"/>
<circle cx="526.9" cy="293.0" r="5.3" fill="url(#ag)"/>
<circle cx="516.5" cy="293.8" r="5.3" fill="url(#ag)"/>
<circle cx="506.0" cy="294.6" r="5.3" fill="url(#ag)"/>
<circle cx="495.6" cy="294.9" r="5.3" fill="url(#ag)"/>
<circle cx="485.1" cy="294.5" r="5.3" fill="url(#ag)"/>
<circle cx="474.6" cy="294.2" r="5.3" fill="url(#ag)"/>
<circle cx="464.2" cy="293.7" r="5.3" fill="url(#ag)"/>
<circle cx="453.7" cy="293.1" r="5.3" fill="url(#ag)"/>
<circle cx="450.0" cy="222.1" r="5.3" fill="url(#ag)"/>
<circle cx="449.0" cy="232.5" r="5.3" fill="url(#ag)"/>
<circle cx="449.9" cy="242.8" r="5.3" fill="url(#ag)"/>
<circle cx="450.0" cy="264.1" r="5.3" fill="url(#ag)"/>
<circle cx="449.0" cy="274.5" r="5.3" fill="url(#ag)"/>
<circle cx="449.9" cy="284.8" r="5.3" fill="url(#ag)"/>
<circle cx="527.0" cy="222.0" r="5.3" fill="url(#ag)"/>
<circle cx="527.0" cy="232.5" r="5.3" fill="url(#ag)"/>
<circle cx="527.0" cy="243.0" r="5.3" fill="url(#ag)"/>
<circle cx="527.0" cy="264.0" r="5.3" fill="url(#ag)"/>
<circle cx="527.0" cy="274.5" r="5.3" fill="url(#ag)"/>
<circle cx="527.0" cy="285.0" r="5.3" fill="url(#ag)"/>
<path d="M462,256.8 L485,256.8 M494,257.2 L525,257.2" stroke="#fff" stroke-width="2" opacity="0.8"/>
<path d="M447,229 L472,228 L490,234 L500,235" stroke="#f84452" stroke-width="9" fill="none" stroke-linejoin="round"/>
<path d="M510,235 L532,235.5" stroke="#f84452" stroke-width="10" fill="none"/>
<circle cx="453" cy="229" r="6.8" fill="url(#rg)"/>
<circle cx="466" cy="228" r="6.8" fill="url(#rg)"/>
<circle cx="488" cy="234" r="6.8" fill="url(#rg)"/>
<circle cx="500" cy="235" r="6.8" fill="url(#rg)"/>
<circle cx="513" cy="236" r="6.8" fill="url(#rg)"/>
<circle cx="525" cy="236" r="6.8" fill="url(#rg)"/>
<path d="M446,277.5 L455,277.5" stroke="#f84452" stroke-width="6" fill="none"/>
<path d="M470,278 L500,278.5 L530,279" stroke="#f84452" stroke-width="6" fill="none"/>
<circle cx="478" cy="278" r="7" fill="url(#rg)"/>
<circle cx="500" cy="278" r="7" fill="url(#rg)"/>
</g>
<text x="282.5" y="77.5" class="tl" text-anchor="end">-300</text>
<text x="282.5" y="397.5" class="tl" text-anchor="end">-310</text>
<text x="282.5" y="717.5" class="tl" text-anchor="end">-320</text>
<text x="282.5" y="1037.5" class="tl" text-anchor="end">-330</text>
<text x="282.5" y="1357.5" class="tl" text-anchor="end">-340</text>
<text x="299.7" y="1562.5" class="tl" text-anchor="middle">0</text>
<text x="539.6" y="1562.5" class="tl" text-anchor="middle">50</text>
<text x="779.6" y="1562.5" class="tl" text-anchor="middle">100</text>
<text x="1019.5" y="1562.5" class="tl" text-anchor="middle">150</text>
<text x="1259.5" y="1562.5" class="tl" text-anchor="middle">200</text>
<text x="1499.5" y="1562.5" class="tl" text-anchor="middle">250</text>
<text x="1739.4" y="1562.5" class="tl" text-anchor="middle">300</text>
<text transform="translate(0,1648.4) scale(0.95,1)" class="tt"><tspan x="812.1052631578948">#</tspan><tspan x="889.8947368421053" letter-spacing="0">MoS</tspan><tspan class="sub" x="1078.9473684210527" dy="34">2</tspan><tspan x="1143.5789473684213" dy="-34" letter-spacing="-0.5">units</tspan></text>
<text transform="translate(91.2,0) scale(0.92,1) rotate(-90)" class="tt"><tspan x="-1398.1" letter-spacing="-2.13">total energy per MoS</tspan><tspan class="sub" x="-584" dy="38.5">2</tspan><tspan x="-522.2" dy="-38.5" letter-spacing="-1.4">(kcal/mol)</tspan></text>
</g>
</svg>
</body></html>
